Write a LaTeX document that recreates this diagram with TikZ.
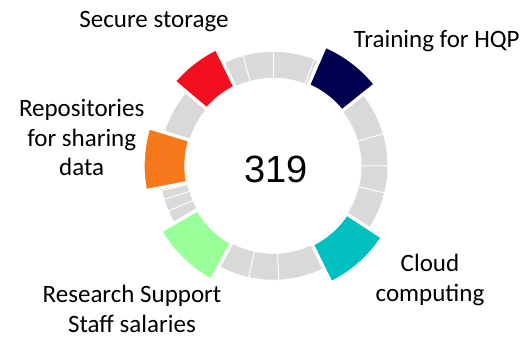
\documentclass[tikz,border=0pt]{standalone}
\usepackage{fontspec}
\setmainfont{Carlito}
\newfontfamily\numfont{Liberation Sans}
\definecolor{cgray}{HTML}{D9D9D9}
\definecolor{cred}{HTML}{F40F1F}
\definecolor{cnavy}{HTML}{00004F}
\definecolor{corange}{HTML}{F7781A}
\definecolor{cgreen}{HTML}{99FF99}
\definecolor{cteal}{HTML}{00BFBF}
\tikzset{
  grayseg/.style={fill=cgray, draw=white, line width=0.8pt},
  colseg/.style={draw=white, line width=3.3pt, line join=miter},
  lbl/.style={font=\fontsize{25}{29.7}\selectfont, inner sep=0pt, align=center},
}
\newcommand\ringseg[5]{%
  \path[#1] ([shift={(#2:#4)}]c) arc[start angle=#2, end angle=#3, radius=#4]
    -- ([shift={(#3:#5)}]c) arc[start angle=#3, end angle=#2, radius=#5] -- cycle;}
\begin{document}
\begin{tikzpicture}[x=1pt,y=1pt]
\useasboundingbox (0,0) rectangle (525,337);
\coordinate (c) at (273.5,171.2);
% gray segments
\foreach \a/\b in {-33.3/-13.7, -13.7/0, 0/16.3, 16.3/38.6,
                   66.6/69, 69/90, 90/105.5, 105.5/116,
                   139.7/163,
                   191/192.5, 192.5/197, 197/203.3, 203.3/210,
                   241.5/257.5, 257.5/272.7, 272.7/296.2}
  {\ringseg{grayseg}{\a}{\b}{87.6}{114.4}}
% coloured segments
\ringseg{colseg,fill=cnavy}{38.6}{66.6}{87.5}{130.5}
\ringseg{colseg,fill=cred}{116}{139.7}{87.5}{130.5}
\ringseg{colseg,fill=corange}{163}{191}{87.5}{130.5}
\ringseg{colseg,fill=cgreen}{210}{241.5}{87.5}{130.5}
\ringseg{colseg,fill=cteal}{296.2}{326.7}{87.5}{130.5}
% centre value
\node[inner sep=0pt, anchor=base, font=\numfont\fontsize{38}{40}\selectfont] (total) at (276,154.3) {319};
% labels (base anchor = baseline of the last line)
\node[lbl, anchor=base] (secure) at (154,309.7) {Secure storage};
\node[lbl, anchor=base] (hqp) at (436.7,289.7) {Training for HQP};
\node[lbl, anchor=base] (repo) at (81.7,161) {Repositories\\for sharing\\data};
\node[lbl, anchor=base] (rss) at (132,4.7) {Research Support\\Staff salaries};
\node[lbl, anchor=base] (cloud) at (430,35.3) {Cloud\\computing};
\end{tikzpicture}
\end{document}
